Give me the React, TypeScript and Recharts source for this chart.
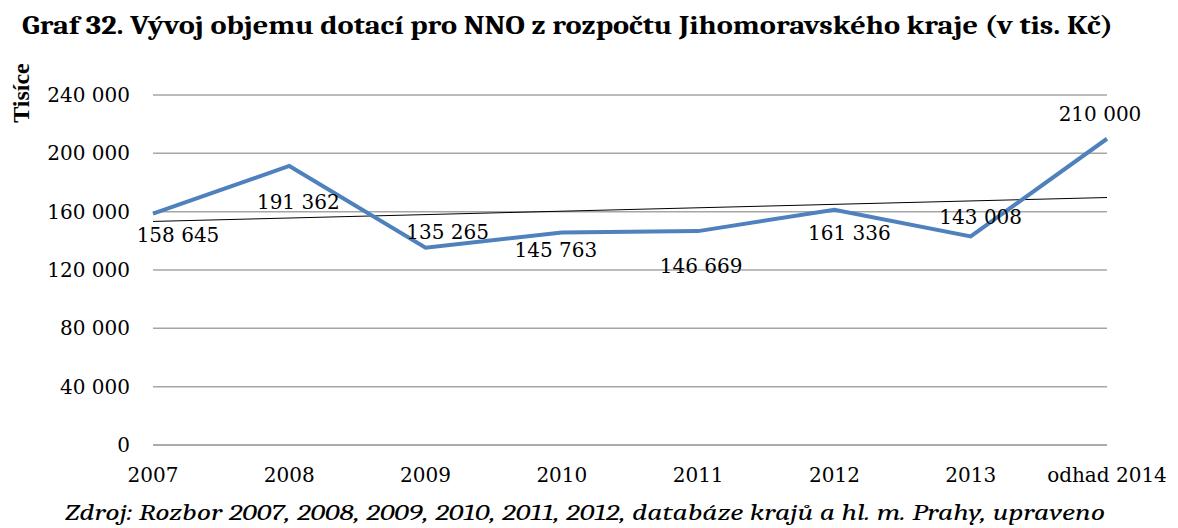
import React from 'react';
import { LineChart, Line, XAxis, YAxis, CartesianGrid, LabelList } from 'recharts';

// values
const years = ['2007', '2008', '2009', '2010', '2011', '2012', '2013', 'odhad 2014'];
const amounts = [158645, 191362, 135265, 145763, 146669, 161336, 143008, 210000];
// linear trendline end points (first and last category)
const trendEnds = [153300, 169700];
const yTicks = [0, 40000, 80000, 120000, 160000, 200000, 240000];

// where each data label sits relative to its point (px)
const labelOffsets = [
  [25, 21], [9, 36], [22, -16], [-6, 18], [3, 35], [15, 23], [10, -19], [-7, -25],
];

const TITLE_FONT = 'Cambria, Caladea, "DejaVu Serif", serif';
const CHART_FONT = '"DejaVu Serif", serif';

const fmt = (v: number) => {
  const s = String(Math.round(v));
  return s.replace(/\B(?=(\d{3})+(?!\d))/g, ' ');
};

const data = years.map((year, i) => ({
  year,
  amount: amounts[i],
  trend: i === 0 ? trendEnds[0] : i === years.length - 1 ? trendEnds[1] : null,
}));

const PointLabel = (props: any) => {
  const { x, y, value, index } = props;
  const [dx, dy] = labelOffsets[index] ?? [0, -15];
  return (
    <text
      x={x + dx}
      y={y + dy}
      textAnchor="middle"
      dominantBaseline="central"
      fontFamily={CHART_FONT}
      fontSize={20}
      fill="#000"
    >
      {fmt(value)}
    </text>
  );
};

export default function App() {
  return (
    <div style={{ position: 'absolute', left: 0, top: 0, width: 1178, height: 528, background: '#fff' }}>
      <div style={{ position: 'absolute', left: 0, top: 0 }}>
        <LineChart width={1178} height={528} data={data} margin={{ top: 95, right: 71, bottom: 53, left: 0 }}>
          <CartesianGrid vertical={false} stroke="#a6a6a6" strokeWidth={1.5} />
          <XAxis
            dataKey="year"
            axisLine={{ stroke: '#a6a6a6', strokeWidth: 1.5 }}
            tickLine={false}
            tickSize={0}
            tickMargin={23}
            height={30}
            interval={0}
            tick={{ fill: '#000', fontSize: 20, fontFamily: CHART_FONT }}
          />
          <YAxis
            domain={[0, 240000]}
            ticks={yTicks}
            width={153}
            axisLine={false}
            tickLine={false}
            tickSize={0}
            tickMargin={23}
            tickFormatter={fmt}
            tick={{ fill: '#000', fontSize: 20, fontFamily: CHART_FONT }}
          />
          <Line
            dataKey="trend"
            stroke="#000"
            strokeWidth={1}
            dot={false}
            connectNulls
            isAnimationActive={false}
          />
          <Line
            dataKey="amount"
            stroke="#4f81bd"
            strokeWidth={4}
            dot={false}
            isAnimationActive={false}
          >
            <LabelList dataKey="amount" content={<PointLabel />} />
          </Line>
        </LineChart>
      </div>
      <svg width={1178} height={528} style={{ position: 'absolute', left: 0, top: 0, pointerEvents: 'none' }}>
        <text
          x={22}
          y={34}
          fontFamily={TITLE_FONT}
          fontSize={27}
          fontWeight="bold"
          textLength={1091}
          lengthAdjust="spacingAndGlyphs"
          fill="#000"
        >
          Graf 32. Vývoj objemu dotací pro NNO z rozpočtu Jihomoravského kraje (v tis. Kč)
        </text>
        <text
          transform="translate(29, 93) rotate(-90)"
          textAnchor="middle"
          fontFamily='"Liberation Serif", serif'
          fontSize={24}
          fontWeight="bold"
          fill="#000"
        >
          Tisíce
        </text>
        <text
          x={65}
          y={520}
          fontFamily={TITLE_FONT}
          fontSize={23}
          fontStyle="italic"
          textLength={1040}
          lengthAdjust="spacingAndGlyphs"
          fill="#000"
        >
          Zdroj: Rozbor 2007, 2008, 2009, 2010, 2011, 2012, databáze krajů a hl. m. Prahy, upraveno
        </text>
      </svg>
    </div>
  );
}
